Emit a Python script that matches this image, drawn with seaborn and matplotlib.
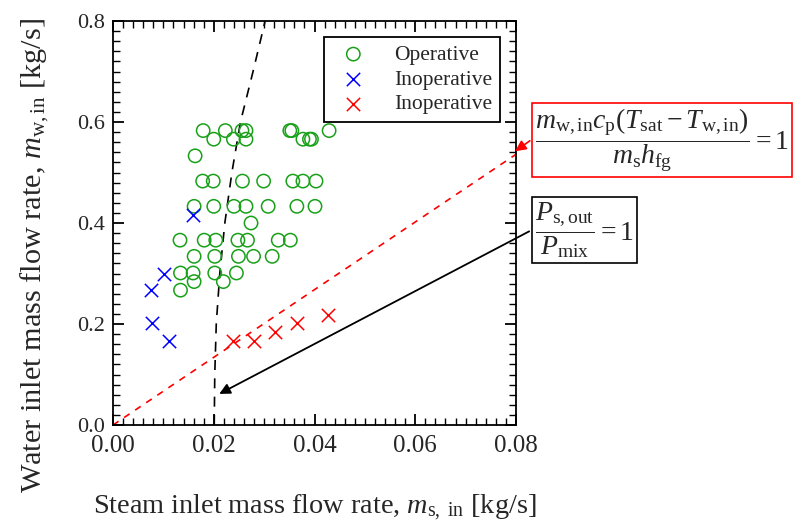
"""Operating map: steam vs water inlet mass flow rate."""
import matplotlib
matplotlib.use("Agg")
import numpy as np
import pandas as pd
import seaborn as sns
import matplotlib.pyplot as plt
from matplotlib.ticker import MultipleLocator

# operative points (steam, water) [kg/s]
op_steam = [0.0179, 0.0223, 0.0256, 0.0264, 0.0351, 0.0355, 0.0429,
            0.0200, 0.0239, 0.0264, 0.0377, 0.0390, 0.0394,
            0.0163,
            0.0178, 0.0199, 0.0257, 0.0299, 0.0357, 0.0377, 0.0403,
            0.0161, 0.0200, 0.0240, 0.0264, 0.0308, 0.0365, 0.0401,
            0.0274,
            0.0133, 0.0181, 0.0204, 0.0248, 0.0267, 0.0328, 0.0352,
            0.0161, 0.0202, 0.0249, 0.0279, 0.0316,
            0.0134, 0.0159, 0.0202, 0.0245,
            0.0161, 0.0219,
            0.0134]
op_water = [0.583] * 7 + [0.566] * 6 + [0.533] + [0.483] * 7 + [0.433] * 7 \
    + [0.400] + [0.366] * 7 + [0.334] * 5 + [0.301] * 4 + [0.284] * 2 + [0.267]

# inoperative, pressure limited (blue)
blue_steam = [0.0158, 0.0101, 0.0075, 0.0078, 0.0111]
blue_water = [0.416, 0.300, 0.267, 0.201, 0.167]

# inoperative, condensation limited (red)
red_steam = [0.0239, 0.0280, 0.0322, 0.0365, 0.0426]
red_water = [0.167, 0.167, 0.184, 0.201, 0.218]

# energy balance limit line, m_w = k * m_s
energy_x = np.array([0.0, 0.08])
energy_slope = 6.7

# pressure ratio limit curve
press_water = [0.0, 0.1, 0.2, 0.3, 0.4, 0.5, 0.6, 0.7, 0.8]
press_steam = [0.0201, 0.0202, 0.0205, 0.0212, 0.0222, 0.0236, 0.0253, 0.0278, 0.0302]

GREEN = "#19a019"

sns.set_style("ticks")
plt.rcParams["font.family"] = ["Liberation Serif", "DejaVu Serif"]
plt.rcParams["mathtext.fontset"] = "custom"
plt.rcParams["mathtext.rm"] = "Liberation Serif"
plt.rcParams["mathtext.it"] = "Liberation Serif:italic"
plt.rcParams["mathtext.bf"] = "Liberation Serif:bold"
plt.rcParams["xtick.direction"] = "in"
plt.rcParams["ytick.direction"] = "in"

fig = plt.figure(figsize=(8.05, 5.28), dpi=100)
ax = fig.add_axes([113 / 805, 1 - 425 / 528, 403 / 805, 404 / 528])

df_op = pd.DataFrame({"steam": op_steam, "water": op_water})
df_blue = pd.DataFrame({"steam": blue_steam, "water": blue_water})
df_red = pd.DataFrame({"steam": red_steam, "water": red_water})

sns.scatterplot(data=df_op, x="steam", y="water", marker="o", s=92,
                facecolors="none", edgecolor=GREEN, linewidth=1.1,
                label="Operative", ax=ax, zorder=3)
sns.scatterplot(data=df_blue, x="steam", y="water", marker="x", s=92,
                color="#0000ff", linewidth=1.1, label="Inoperative", ax=ax, zorder=3)
sns.scatterplot(data=df_red, x="steam", y="water", marker="x", s=92,
                color="#ff0000", linewidth=1.1, label="Inoperative", ax=ax, zorder=3)

ax.plot(energy_x, energy_slope * energy_x, ls=(0, (4, 4)), color="red", lw=1.2, zorder=2)
ax.plot(press_steam, press_water, ls=(0, (6, 5)), color="black", lw=1.2, zorder=2)

ax.set_xlim(0, 0.08)
ax.set_ylim(0, 0.8)
ax.xaxis.set_major_locator(MultipleLocator(0.02))
ax.xaxis.set_minor_locator(MultipleLocator(0.002))
ax.yaxis.set_major_locator(MultipleLocator(0.2))
ax.yaxis.set_minor_locator(MultipleLocator(0.02))
ax.xaxis.set_major_formatter(lambda v, p: f"{v:.2f}")
ax.yaxis.set_major_formatter(lambda v, p: f"{v:.1f}")
ax.tick_params(which="both", top=True, right=True, color="black")
ax.tick_params(axis="x", labelsize=18, pad=7)
ax.tick_params(axis="y", labelsize=16, pad=6)
ax.tick_params(which="major", length=8, width=1.3)
ax.tick_params(which="minor", length=5, width=1.0)
for sp in ax.spines.values():
    sp.set_linewidth(1.3)
    sp.set_color("black")

ax.set_xlabel(r"Steam inlet mass flow rate, $m_{\rm s,\ in}$ [kg/s]", fontsize=20.3, labelpad=26)
ax.set_ylabel(r"Water inlet mass flow rate, $m_{\rm w,in}$ [kg/s]", fontsize=21.8)
ax.yaxis.set_label_coords(-0.155, 0.42)

leg = ax.legend(loc="upper right", bbox_to_anchor=(0.96, 0.96), borderaxespad=0,
                fontsize=15.5, frameon=True, fancybox=False, edgecolor="black",
                framealpha=1, labelspacing=0.22, handletextpad=0.9, borderpad=0.35)
leg.get_frame().set_linewidth(1.3)

# annotation boxes with arrows
fig.text(535 / 805, 1 - 140 / 528,
         r"$\dfrac{m_{\rm w,in}c_{\rm p}(T_{\rm sat}-T_{\rm w,in})}{m_{\rm s}h_{\rm fg}}=1$",
         fontsize=20, ha="left", va="center",
         bbox=dict(boxstyle="square,pad=0.1", fc="white", ec="red", lw=1.2))
fig.text(535 / 805, 1 - 230 / 528,
         r"$\dfrac{P_{\rm s,out}}{P_{\rm mix}}=1$",
         fontsize=20, ha="left", va="center",
         bbox=dict(boxstyle="square,pad=0.12", fc="white", ec="black", lw=1.2))

ax.annotate("", xy=(0.0794, 0.539), xytext=(0.0832, 0.566),
            arrowprops=dict(arrowstyle="-|>", color="red", lw=1.2, mutation_scale=16),
            annotation_clip=False)
ax.annotate("", xy=(0.0206, 0.059), xytext=(0.0831, 0.386),
            arrowprops=dict(arrowstyle="-|>", color="black", lw=1.3, mutation_scale=16),
            annotation_clip=False)

fig.savefig("out.png", dpi=100)
